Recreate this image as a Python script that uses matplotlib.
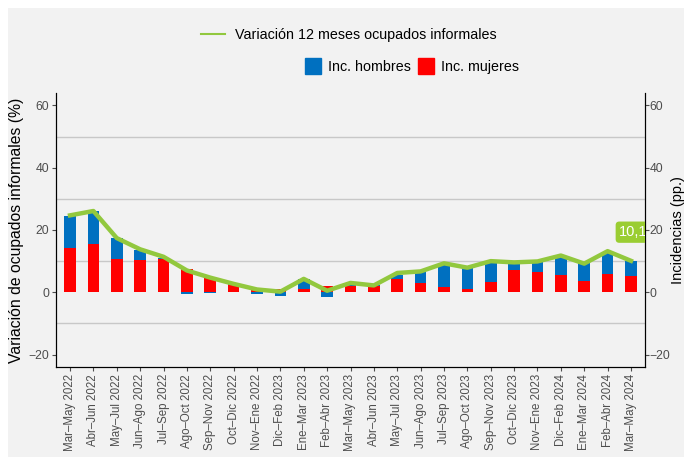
import numpy as np
import matplotlib.pyplot as plt
from matplotlib.lines import Line2D
from matplotlib.patches import Patch, Rectangle

plt.rcParams['font.family'] = ['Liberation Sans', 'DejaVu Sans']

# Periodos moviles (trimestres)
periodos = ['Mar–May 2022', 'Abr–Jun 2022', 'May–Jul 2022', 'Jun–Ago 2022', 'Jul–Sep 2022',
            'Ago–Oct 2022', 'Sep–Nov 2022', 'Oct–Dic 2022', 'Nov–Ene 2022', 'Dic–Feb 2023',
            'Ene–Mar 2023', 'Feb–Abr 2023', 'Mar–May 2023', 'Abr–Jun 2023', 'May–Jul 2023',
            'Jun–Ago 2023', 'Jul–Sep 2023', 'Ago–Oct 2023', 'Sep–Nov 2023', 'Oct–Dic 2023',
            'Nov–Ene 2023', 'Dic–Feb 2024', 'Ene–Mar 2024', 'Feb–Abr 2024', 'Mar–May 2024']

# Incidencias (pp.)
inc_hombres = np.array([10.4, 10.5, 6.8, 3.3, 0.5, -0.5, -0.1, 0.2, -0.5, -1.1,
                        3.1, -1.5, 0.8, 0.4, 1.4, 3.4, 7.4, 6.9, 6.5, 2.2,
                        3.2, 5.8, 5.8, 7.0, 4.8])
inc_mujeres = np.array([14.2, 15.5, 10.7, 10.3, 10.6, 7.4, 4.7, 2.4, 0.6, 0.9,
                        1.1, 2.0, 2.1, 1.9, 4.3, 3.0, 1.6, 1.0, 3.4, 7.2,
                        6.6, 5.6, 3.5, 6.0, 5.3])
# Variacion 12 meses ocupados informales (%)
variacion = np.array([24.7, 26.1, 17.4, 13.8, 11.4, 7.0, 4.7, 2.7, 0.9, 0.2,
                      4.3, 0.5, 3.0, 2.2, 6.2, 6.7, 9.3, 7.9, 10.0, 9.6,
                      9.9, 11.8, 9.2, 13.2, 10.1])

col_h = '#0070C0'
col_m = '#FF0000'
col_line = '#92C83E'
bg = '#F2F2F2'

fig = plt.figure(figsize=(6.84, 4.57), dpi=100)
fig.patch.set_facecolor('white')
fig.patches.append(Rectangle((8 / 684, 0), 1, 1 - 8 / 457, transform=fig.transFigure,
                             facecolor=bg, edgecolor='none', zorder=-10))

ax = fig.add_axes([56 / 684, 90 / 457, 589 / 684, 274 / 457])
ax.set_facecolor(bg)
x = np.arange(len(periodos))

# ggplot-like stacking: positives go up, negatives go down
pos_base = np.zeros(len(x))
neg_base = np.zeros(len(x))
for vals, col in [(inc_mujeres, col_m), (inc_hombres, col_h)]:
    bottoms = np.where(vals >= 0, pos_base, neg_base)
    ax.bar(x, vals, bottom=bottoms, width=0.5, color=col, zorder=2)
    pos_base = pos_base + np.where(vals >= 0, vals, 0)
    neg_base = neg_base + np.where(vals < 0, vals, 0)

ax.plot(x, variacion, color=col_line, lw=3.2, zorder=3)

for g in [-10, 10, 30, 50]:
    ax.axhline(g, color='#C8C8C8', lw=1.0, zorder=1)

ax.set_xlim(-0.6, 24.6)
ax.set_ylim(-24, 64)
ax.set_yticks([-20, 0, 20, 40, 60])
ax.set_xticks(x)
ax.set_xticklabels(periodos, rotation=90, fontsize=8.3, color='#444444')
ax.tick_params(axis='y', labelsize=8.8, colors='#4D4D4D', length=3, pad=2)
ax.tick_params(axis='x', length=3, colors='#4D4D4D', pad=2)
ax.set_ylabel('Variación de ocupados informales (%)', fontsize=11.3, labelpad=3)
ax.spines['top'].set_visible(False)
for s in ['left', 'bottom', 'right']:
    ax.spines[s].set_color('black')

ax2 = ax.twinx()
ax2.set_ylim(-24, 64)
ax2.set_yticks([-20, 0, 20, 40, 60])
ax2.tick_params(axis='y', labelsize=8.8, colors='#4D4D4D', length=3, pad=0.5)
ax2.set_ylabel('Incidencias (pp.)', fontsize=10.5, labelpad=0)
ax2.spines['top'].set_visible(False)
ax2.spines['right'].set_color('black')

ax2.text(23.5, 19.3, '10,1', ha='left', va='center', fontsize=10.5, color='white',
         bbox=dict(boxstyle='round,pad=0.25', fc='#9ACD32', ec='none'),
         clip_on=True, zorder=5)

leg1 = fig.legend(handles=[Line2D([], [], color=col_line, lw=1.5)],
                  labels=['Variación 12 meses ocupados informales'],
                  loc='center', bbox_to_anchor=(349 / 684, 1 - 35 / 457),
                  frameon=False, fontsize=10.3, handlelength=1.65, handletextpad=0.75)
leg2 = fig.legend(handles=[Patch(color=col_h), Patch(color=col_m)],
                  labels=['Inc. hombres', 'Inc. mujeres'], ncol=2,
                  loc='center', bbox_to_anchor=(412 / 684, 1 - 66 / 457),
                  frameon=False, fontsize=10.3, handlelength=1.1, handleheight=1.4,
                  handletextpad=0.5, columnspacing=0.5)

fig.savefig('out.png', dpi=100)
